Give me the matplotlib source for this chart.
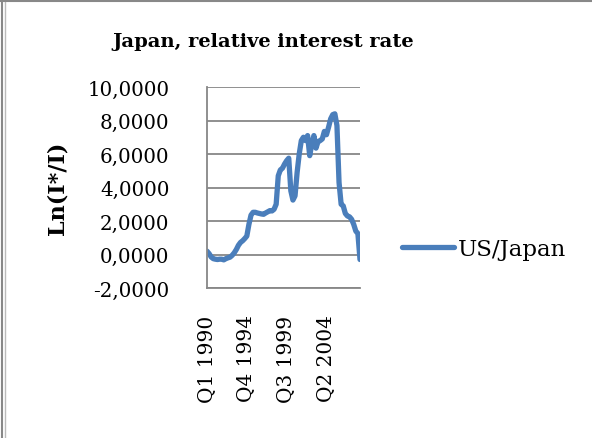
import matplotlib
matplotlib.use("Agg")
import matplotlib.pyplot as plt
from matplotlib.lines import Line2D

# Data: quarterly, Q1 1990 .. Q2 2008
start_year = 1990
n_points = 74
categories = [f"Q{(i % 4) + 1} {start_year + i // 4}" for i in range(n_points)]
values = [
    0.20, 0.05, -0.15, -0.25, -0.28, -0.30, -0.28, -0.28, -0.32, -0.25,
    -0.20, -0.16, -0.05, 0.10, 0.30, 0.55, 0.72, 0.82, 0.95, 1.10,
    1.80, 2.35, 2.52, 2.52, 2.48, 2.45, 2.42, 2.40, 2.48, 2.55,
    2.62, 2.60, 2.70, 3.00, 4.70, 5.05, 5.15, 5.40, 5.60, 5.75,
    3.80, 3.25, 3.50, 4.90, 6.00, 6.80, 7.00, 6.80, 7.10, 5.90,
    6.60, 7.10, 6.35, 6.75, 6.80, 6.90, 7.35, 7.15, 7.60, 8.10,
    8.35, 8.40, 7.70, 4.30, 3.00, 2.90, 2.45, 2.30, 2.25, 2.10,
    1.80, 1.40, 1.25, -0.30,
]
tick_labels = ["Q1 1990", "Q4 1994", "Q3 1999", "Q2 2004"]
y_ticks = [-2, 0, 2, 4, 6, 8, 10]
series_name = "US/Japan"
title = "Japan, relative interest rate"
ylabel = "Ln(I*/I)"

plt.rcParams['font.family'] = ['DejaVu Serif']
line_color = "#4A7EBB"
grid_color = "#878787"
lw = 3.8

fig = plt.figure(figsize=(5.92, 4.39), dpi=100)
ax = fig.add_axes([207/592, 1-289/439, 153/592, 201/439])

x = list(range(n_points))
ax.plot(x, values, color=line_color, linewidth=lw, solid_capstyle='round',
        solid_joinstyle='round', label=series_name)

ax.set_xlim(0, n_points - 1)
ax.set_ylim(-2, 10)
ax.set_yticks(y_ticks)
ax.set_yticklabels([f"{v:.4f}".replace(".", ",") for v in y_ticks], fontsize=14.3)
ax.yaxis.grid(True, color=grid_color, linewidth=1.3)
ax.set_axisbelow(True)

tick_pos = [categories.index(t) for t in tick_labels]
ax.set_xticks(tick_pos)
ax.set_xticklabels(tick_labels, rotation=90, fontsize=14.5)
ax.tick_params(axis='x', length=0, pad=19)
ax.tick_params(axis='y', length=0, pad=27)

for s in ['top', 'right']:
    ax.spines[s].set_visible(False)
for s in ['left', 'bottom']:
    ax.spines[s].set_color(grid_color)
    ax.spines[s].set_linewidth(1.3)

fig.text(263/592, 1-42/439, title, ha='center', va='center', fontsize=14,
         fontweight='bold')
fig.text(58/592, 1-188/439, ylabel, ha='center', va='center', rotation=90,
         fontsize=16, fontweight='bold')

# Legend
fig.legend(handles=[Line2D([0], [0], color=line_color, linewidth=lw,
                           solid_capstyle='round')],
           labels=[series_name], loc='center left',
           bbox_to_anchor=(381/592, 1-250/439), frameon=False, fontsize=16.5,
           handlelength=2.3, handletextpad=0.15)

# Chart border
fig.add_artist(Line2D([2/592, 2/592], [0, 1], transform=fig.transFigure,
                      color="#888888", linewidth=1.5))
fig.add_artist(Line2D([5/592, 5/592], [0, 1-3/439], transform=fig.transFigure,
                      color="#bbbbbb", linewidth=1.0))
fig.add_artist(Line2D([0, 1], [1-2/439, 1-2/439], transform=fig.transFigure,
                      color="#888888", linewidth=1.5))

fig.savefig("out.png", dpi=100)
